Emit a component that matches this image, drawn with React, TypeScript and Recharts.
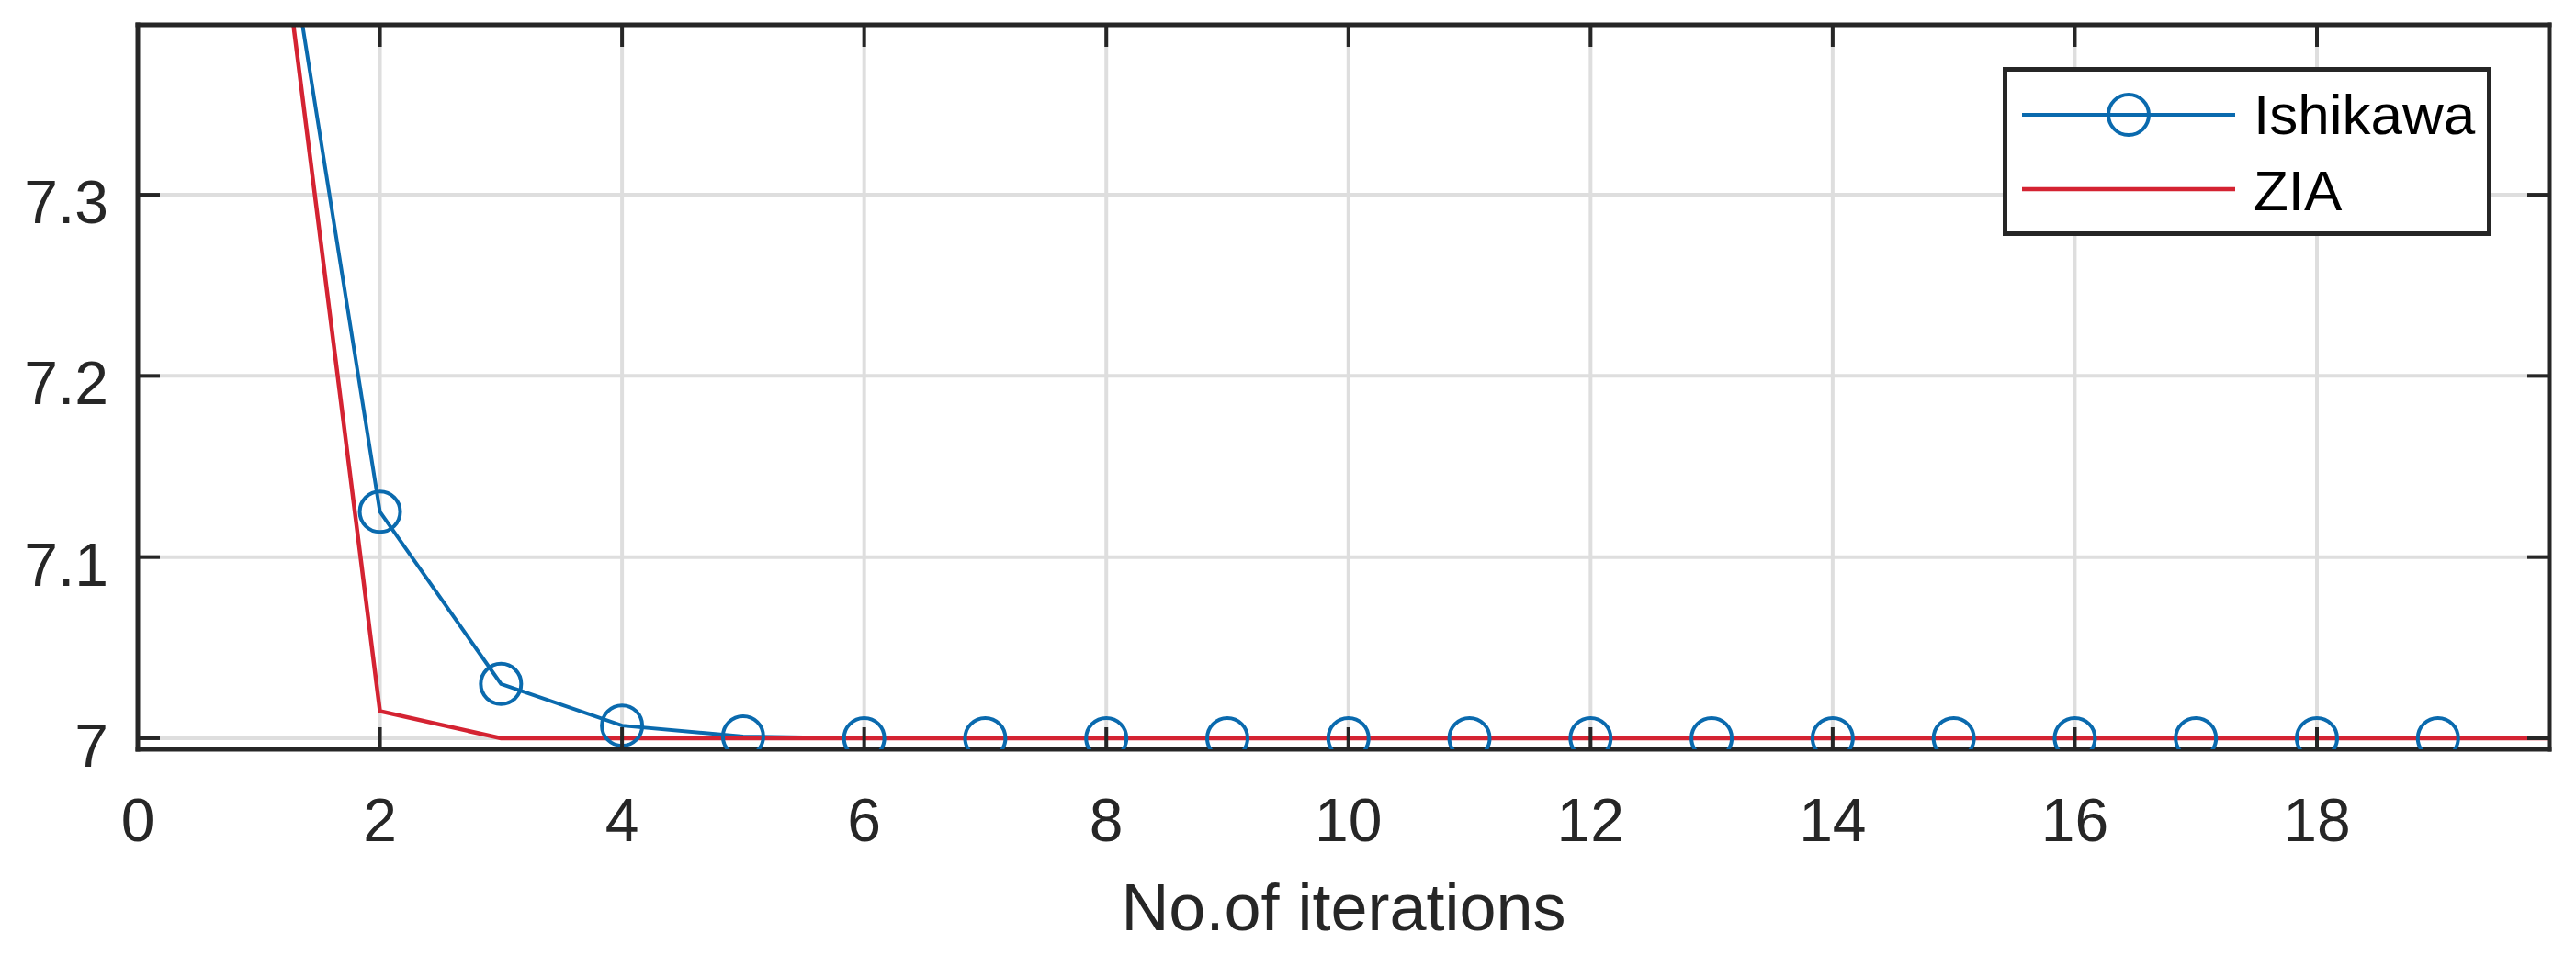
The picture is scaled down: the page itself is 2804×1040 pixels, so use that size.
import React from "react";
import { LineChart, Line, XAxis, YAxis, CartesianGrid } from "recharts";

// convergence of the two iterations
const iterations = [1, 2, 3, 4, 5, 6, 7, 8, 9, 10, 11, 12, 13, 14, 15, 16, 17, 18, 19, 20];
// Ishikawa is plotted for iterations 1..19 only (no marker at 20)
const ishikawa = [7.545, 7.125, 7.03, 7.007, 7.001, 7.0, 7.0, 7.0, 7.0, 7.0, 7.0, 7.0, 7.0, 7.0, 7.0, 7.0, 7.0, 7.0, 7.0];
const zia = [7.545, 7.015, 7.0, 7.0, 7.0, 7.0, 7.0, 7.0, 7.0, 7.0, 7.0, 7.0, 7.0, 7.0, 7.0, 7.0, 7.0, 7.0, 7.0, 7.0];

const xTicks = [0, 2, 4, 6, 8, 10, 12, 14, 16, 18];
const yTicks = [7, 7.1, 7.2, 7.3];
const xDomain = [0, 19.92];
const yDomain = [6.9939, 7.3938];

const seriesNames = ["Ishikawa", "ZIA"];
const xTitle = "No.of iterations";

const data = iterations.map((it, i) => ({
  it,
  ishikawa: i < ishikawa.length ? ishikawa[i] : null,
  zia: zia[i],
}));

const INK = "#262626";
const BLUE = "#0A6AAE";
const RED = "#D42332";
const FONT = '"Liberation Sans", Arial, Helvetica, sans-serif';
const TICK_LEN = 24;

const BottomTick = ({ x, y, payload }: any) => (
  <g>
    <line x1={x} y1={y} x2={x} y2={y - TICK_LEN} stroke={INK} strokeWidth={4} />
    <text x={x} y={y + 100} textAnchor="middle" fontSize={66} fill={INK} fontFamily={FONT}>
      {payload.value}
    </text>
  </g>
);

const TopTick = ({ x, y }: any) => (
  <line x1={x} y1={y} x2={x} y2={y + TICK_LEN} stroke={INK} strokeWidth={4} />
);

const LeftTick = ({ x, y, payload }: any) => (
  <g>
    <line x1={x} y1={y} x2={x + TICK_LEN} y2={y} stroke={INK} strokeWidth={4} />
    <text x={x - 32} y={y + 31} textAnchor="end" fontSize={66} fill={INK} fontFamily={FONT}>
      {payload.value}
    </text>
  </g>
);

const RightTick = ({ x, y }: any) => (
  <line x1={x} y1={y} x2={x - TICK_LEN} y2={y} stroke={INK} strokeWidth={4} />
);

const XTitle = ({ viewBox }: any) => (
  <text
    x={viewBox.x + viewBox.width / 2}
    y={viewBox.y + 197}
    textAnchor="middle"
    fontSize={72}
    fill={INK}
    fontFamily={FONT}
  >
    {xTitle}
  </text>
);

function LegendBox() {
  return (
    <svg
      width={532}
      height={184}
      style={{ position: "absolute", left: 2180, top: 73 }}
    >
      <rect x={2.5} y={2.5} width={527} height={179} fill="#fff" stroke={INK} strokeWidth={5} />
      <line x1={21} y1={52} x2={253} y2={52} stroke={BLUE} strokeWidth={4} />
      <circle cx={137} cy={52} r={22} fill="none" stroke={BLUE} strokeWidth={4} />
      <text x={273} y={73} fontSize={62} fill="#000" fontFamily={FONT}>
        {seriesNames[0]}
      </text>
      <line x1={21} y1={133} x2={253} y2={133} stroke={RED} strokeWidth={4.5} />
      <text x={273} y={156} fontSize={62} fill="#000" fontFamily={FONT}>
        {seriesNames[1]}
      </text>
    </svg>
  );
}

export default function App() {
  const axisLine = { stroke: INK, strokeWidth: 5, strokeLinecap: "square" as const };
  return (
    <div style={{ position: "absolute", left: 0, top: 0, width: 2804, height: 1040, background: "#fff" }}>
      <LineChart
        width={2804}
        height={1040}
        data={data}
        margin={{ top: 26, right: 28, bottom: 0, left: 0 }}
      >
        <CartesianGrid stroke="#dedede" strokeWidth={4} />
        <XAxis
          dataKey="it"
          type="number"
          domain={xDomain}
          ticks={xTicks}
          interval={0}
          allowDataOverflow
          height={224}
          tickSize={0}
          tickMargin={0}
          tickLine={false}
          axisLine={axisLine}
          tick={BottomTick}
          label={<XTitle />}
        />
        <XAxis
          xAxisId="top"
          orientation="top"
          dataKey="it"
          type="number"
          domain={xDomain}
          ticks={xTicks}
          interval={0}
          allowDataOverflow
          height={1}
          tickSize={0}
          tickMargin={0}
          tickLine={false}
          axisLine={axisLine}
          tick={TopTick}
        />
        <YAxis
          type="number"
          domain={yDomain}
          ticks={yTicks}
          interval={0}
          allowDataOverflow
          width={150}
          tickSize={0}
          tickMargin={0}
          tickLine={false}
          axisLine={axisLine}
          tick={LeftTick}
        />
        <YAxis
          yAxisId="right"
          orientation="right"
          type="number"
          domain={yDomain}
          ticks={yTicks}
          interval={0}
          allowDataOverflow
          width={1}
          tickSize={0}
          tickMargin={0}
          tickLine={false}
          axisLine={axisLine}
          tick={RightTick}
        />
        <Line
          type="linear"
          dataKey="ishikawa"
          name={seriesNames[0]}
          stroke={BLUE}
          strokeWidth={4}
          dot={{ r: 22, stroke: BLUE, strokeWidth: 4, fill: "none" }}
          activeDot={false}
          isAnimationActive={false}
        />
        <Line
          type="linear"
          dataKey="zia"
          name={seriesNames[1]}
          stroke={RED}
          strokeWidth={4.5}
          dot={false}
          activeDot={false}
          isAnimationActive={false}
        />
      </LineChart>
      <LegendBox />
    </div>
  );
}
